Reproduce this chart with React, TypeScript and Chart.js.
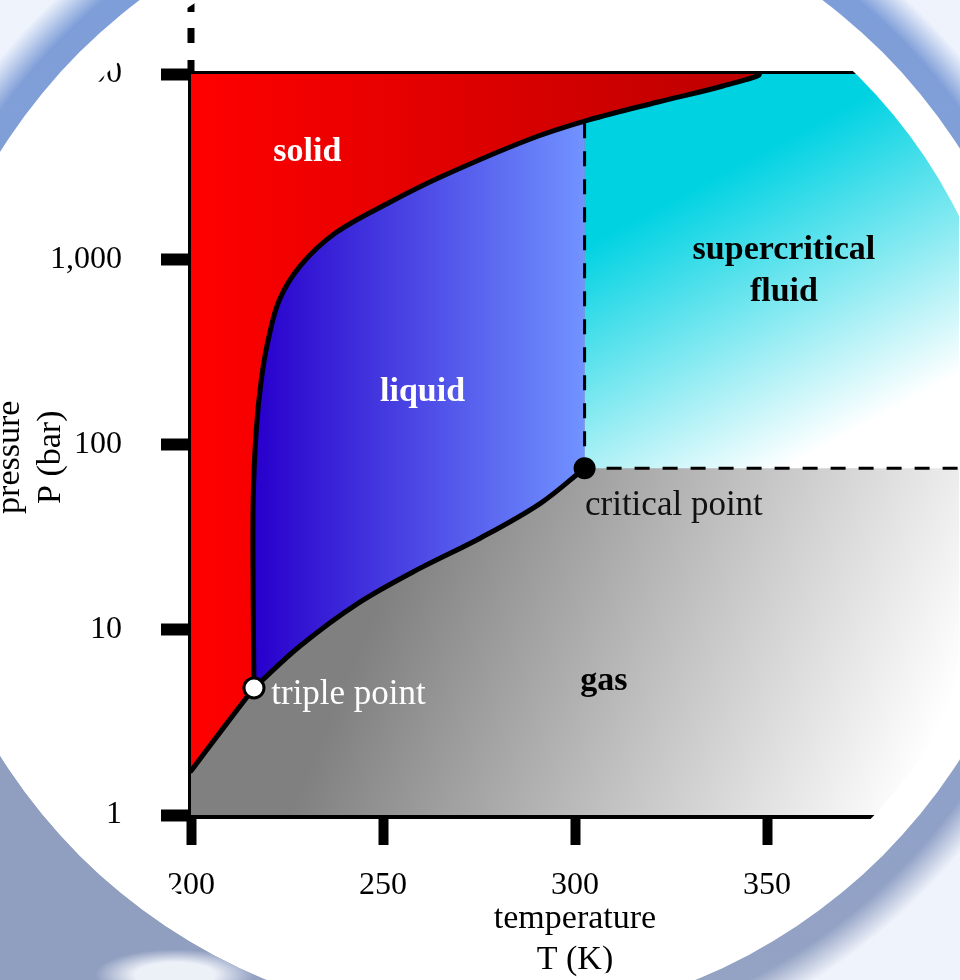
import React, { useEffect, useRef } from "react";
import { Chart, registerables } from "chart.js";

Chart.register(...registerables);

const SERIF = '"Liberation Serif", "Times New Roman", serif';

// ---------- data ----------
const T_RANGE = [200, 400];
const P_RANGE = [1, 10000];
const xTickValues = [200, 250, 300, 350];
const xTickLabels = ["200", "250", "300", "350"];
const yTickValues = [1, 10, 100, 1000, 10000];
const yTickLabels = ["1", "10", "100", "1,000", "10,000"];
const xTitle = ["temperature", "T (K)"];
const yTitle = ["pressure   ", "P (bar)   "];

const triplePoint = { T: 216.4, P: 4.85 };
const criticalPoint = { T: 302.5, P: 74.5 };

const sublimationT = [200, 208.1, 216.4];
const sublimationP = [1.73, 2.89, 4.85];

const meltingT = [216.4, 216.2, 216.2, 217.0, 218.3, 220.1, 223.0, 228.4, 237.6, 251.9, 265.0, 287.7, 303.6, 321.6, 338.5, 347.4];
const meltingP = [4.85, 14.5, 50.2, 119.8, 222.9, 366.6, 602.6, 919, 1386, 2037, 2780, 4404, 5650, 7063, 8614, 10000];

const vaporizationT = [216.4, 228.4, 243.3, 259.7, 275.4, 291.1, 302.5];
const vaporizationP = [4.85, 8.17, 13.8, 21.5, 31.3, 48.3, 74.5];

const criticalIsothermTopP = 5560;
const HIDDEN_T = 208; // helper corner lying inside the solid region

const regionLabels = ["solid", "liquid", "supercritical\nfluid", "gas"];
const regionLabelT = [230.3, 260.3, 354.4, 307.5];
const regionLabelP = [3793, 192, 864, 5.29];

const pointLabels = ["triple point", "critical point"];
const pointLabelT = [220.9, 302.6];
const pointLabelP = [4.44, 46.6];

// ---------- styles ----------
const REGION_LABEL_COLORS = ["#ffffff", "#ffffff", "#000000", "#000000"];
const POINT_LABEL_COLORS = ["#ffffff", "#111111"];
const FRAME = { cx: 481, cy: 454, rInner: 534, rOuter: 568 };
const TRANSPARENT = "rgba(0,0,0,0)";

const toPts = (Ts: number[], Ps: number[]) => Ts.map((t, i) => ({ x: t, y: Ps[i] }));
const sublimation = toPts(sublimationT, sublimationP);
const melting = toPts(meltingT, meltingP);
const vaporization = toPts(vaporizationT, vaporizationP);

// triple point appears twice so the corner stays sharp under spline tension
const solidShape = [...sublimation, ...melting, { x: T_RANGE[0], y: P_RANGE[1] }];
const liquidEdge = [...vaporization]
  .reverse()
  .concat([{ x: triplePoint.T, y: triplePoint.P }, { x: HIDDEN_T, y: triplePoint.P }]);
const liquidShape = [...liquidEdge, { x: HIDDEN_T, y: P_RANGE[1] }, { x: criticalPoint.T, y: P_RANGE[1] }];
const fluidShape = [
  { x: criticalPoint.T, y: criticalPoint.P },
  { x: T_RANGE[1], y: criticalPoint.P },
  { x: T_RANGE[1], y: P_RANGE[1] },
  { x: criticalPoint.T, y: P_RANGE[1] },
];
const gasShape = [
  { x: T_RANGE[0], y: P_RANGE[0] },
  { x: T_RANGE[1], y: P_RANGE[0] },
  { x: T_RANGE[1], y: P_RANGE[1] },
  { x: T_RANGE[0], y: P_RANGE[1] },
];

function linearFill(stops: [number, string][], from: number[], to: number[]) {
  return (context: any) => {
    const chart = context.chart;
    const { ctx, chartArea, scales } = chart;
    if (!chartArea || !scales.x || !scales.y) return stops[0][1];
    const x0 = scales.x.getPixelForValue(from[0]);
    const y0 = scales.y.getPixelForValue(from[1]);
    const x1 = scales.x.getPixelForValue(to[0]);
    const y1 = scales.y.getPixelForValue(to[1]);
    const g = ctx.createLinearGradient(x0, y0, x1, y1);
    stops.forEach(([o, c]) => g.addColorStop(o, c));
    return g;
  };
}

const shapeBase = {
  type: "line" as const,
  fill: "shape",
  borderColor: TRANSPARENT,
  borderWidth: 0,
  pointRadius: 0,
  xAxisID: "x",
  yAxisID: "y",
};

function drawFrame(ctx: CanvasRenderingContext2D, W: number, H: number) {
  const { cx, cy, rInner, rOuter } = FRAME;
  ctx.save();
  ctx.beginPath();
  ctx.rect(0, 0, W, H);
  ctx.arc(cx, cy, rInner, 0, Math.PI * 2, true);
  ctx.fillStyle = "#ffffff";
  ctx.fill("evenodd");

  ctx.beginPath();
  ctx.rect(0, 0, W, H);
  ctx.arc(cx, cy, rOuter, 0, Math.PI * 2, true);
  ctx.clip("evenodd");
  const base = ctx.createLinearGradient(0, 0, 0, H);
  base.addColorStop(0, "#7e9ed9");
  base.addColorStop(0.55, "#89a0d0");
  base.addColorStop(1, "#94a2c3");
  ctx.fillStyle = base;
  ctx.fillRect(0, 0, W, H);

  const wash = ctx.createRadialGradient(cx, cy, rOuter + 22, cx, cy, rOuter + 55);
  wash.addColorStop(0, "rgba(248,250,255,0)");
  wash.addColorStop(1, "rgba(246,249,255,0.93)");
  ctx.fillStyle = wash;
  ctx.fillRect(0, 0, W, H);

  const blue = ctx.createRadialGradient(-60, 1010, 150, -60, 1010, 330);
  blue.addColorStop(0, "rgba(144,158,192,1)");
  blue.addColorStop(0.8, "rgba(144,158,192,1)");
  blue.addColorStop(1, "rgba(144,158,192,0)");
  ctx.fillStyle = blue;
  ctx.fillRect(0, 0, W, H);

  ctx.save();
  ctx.translate(175, 975);
  ctx.scale(1, 0.32);
  const blob = ctx.createRadialGradient(0, 0, 40, 0, 0, 80);
  blob.addColorStop(0, "rgba(244,247,252,0.92)");
  blob.addColorStop(1, "rgba(244,247,252,0)");
  ctx.fillStyle = blob;
  ctx.beginPath();
  ctx.arc(0, 0, 80, 0, Math.PI * 2);
  ctx.fill();
  ctx.restore();

  ctx.restore();
}

const decorPlugin = {
  id: "phaseDecor",
  afterDatasetsDraw(chart: any) {
    const { ctx, scales } = chart;
    const x = scales.x;
    const y = scales.y;
    ctx.save();
    ctx.textBaseline = "middle";
    ctx.textAlign = "center";
    ctx.font = `bold 34px ${SERIF}`;
    regionLabels.forEach((txt, i) => {
      const px = x.getPixelForValue(regionLabelT[i]);
      const py = y.getPixelForValue(regionLabelP[i]);
      const lines = txt.split("\n");
      ctx.fillStyle = REGION_LABEL_COLORS[i];
      lines.forEach((ln, j) => {
        ctx.fillText(ln, px, py + (j - (lines.length - 1) / 2) * 42);
      });
    });
    ctx.textAlign = "left";
    ctx.font = `35px ${SERIF}`;
    pointLabels.forEach((txt, i) => {
      ctx.fillStyle = POINT_LABEL_COLORS[i];
      ctx.fillText(txt, x.getPixelForValue(pointLabelT[i]), y.getPixelForValue(pointLabelP[i]));
    });
    ctx.restore();
  },
  afterDraw(chart: any) {
    const { ctx, chartArea, scales, width, height } = chart;
    const ax = scales.x.getPixelForValue(T_RANGE[0]);
    ctx.save();
    ctx.strokeStyle = "#000";
    ctx.lineWidth = 7;
    ctx.beginPath();
    ctx.moveTo(ax, chartArea.top);
    ctx.lineTo(ax, chartArea.top - 14);
    ctx.stroke();
    ctx.setLineDash([15, 16]);
    ctx.beginPath();
    ctx.moveTo(ax, chartArea.top - 31);
    ctx.lineTo(ax, 0);
    ctx.stroke();
    ctx.restore();
    drawFrame(ctx, width, height);
  },
};

const curveLine = {
  type: "line" as const,
  fill: false,
  borderColor: "#000",
  borderWidth: 5,
  borderJoinStyle: "round",
  borderCapStyle: "round",
  pointRadius: 0,
  xAxisID: "x",
  yAxisID: "y",
};

export default function App() {
  const ref = useRef<HTMLCanvasElement>(null);
  useEffect(() => {
    document.body.style.margin = "0";
    const canvas = ref.current;
    if (!canvas) return;
    const chart = new Chart(canvas, {
      type: "line",
      data: {
        datasets: [
          {
            ...shapeBase,
            label: "gas",
            data: gasShape,
            tension: 0,
            order: 10,
            backgroundColor: linearFill([[0, "#808080"], [1, "#ffffff"]], [249.3, 14.5], [385, 0.94]),
          },
          {
            ...shapeBase,
            label: "supercritical fluid",
            data: fluidShape,
            tension: 0,
            order: 9,
            backgroundColor: linearFill(
              [[0, "#00d2e2"], [0.15, "#00d2e2"], [1, "#ffffff"]],
              [306.7, 2679],
              [348.4, 64.3]
            ),
          },
          {
            ...shapeBase,
            label: "liquid",
            data: liquidShape,
            tension: 0.35,
            order: 8,
            backgroundColor: linearFill([[0, "#2800cc"], [1, "#7193ff"]], [217, 1000], [302.5, 1000]),
          },
          {
            ...shapeBase,
            label: "solid",
            data: solidShape,
            tension: 0.35,
            order: 7,
            backgroundColor: linearFill([[0, "#ff0000"], [1, "#bb0000"]], [200, 1000], [348.4, 1000]),
          },
          {
            ...curveLine,
            label: "vaporization curve",
            data: liquidEdge,
            tension: 0.35,
            order: 6,
            segment: {
              borderColor: (c: any) => (c.p1DataIndex === liquidEdge.length - 1 ? TRANSPARENT : undefined),
            },
          },
          {
            ...curveLine,
            label: "sublimation / melting curve",
            data: solidShape,
            tension: 0.35,
            order: 5,
            segment: {
              borderColor: (c: any) => (c.p1DataIndex === solidShape.length - 1 ? TRANSPARENT : undefined),
            },
          },
          {
            type: "line",
            label: "critical isotherm",
            data: [
              { x: criticalPoint.T, y: criticalPoint.P },
              { x: criticalPoint.T, y: criticalIsothermTopP },
            ],
            tension: 0,
            fill: false,
            borderColor: "#000",
            borderWidth: 3,
            borderDash: [15, 13],
            borderDashOffset: 6,
            pointRadius: 0,
            order: 4,
            xAxisID: "x",
            yAxisID: "y",
          },
          {
            type: "line",
            label: "critical isobar",
            data: [
              { x: criticalPoint.T, y: criticalPoint.P },
              { x: T_RANGE[1], y: criticalPoint.P },
            ],
            tension: 0,
            fill: false,
            borderColor: "#000",
            borderWidth: 3,
            borderDash: [15, 13],
            borderDashOffset: 6,
            pointRadius: 0,
            order: 4,
            xAxisID: "x",
            yAxisID: "y",
          },
          {
            type: "line",
            label: "triple point",
            data: [{ x: triplePoint.T, y: triplePoint.P }],
            showLine: false,
            pointRadius: 10,
            pointBackgroundColor: "#ffffff",
            pointBorderColor: "#000000",
            pointBorderWidth: 3,
            order: 1,
            xAxisID: "x",
            yAxisID: "y",
          },
          {
            type: "line",
            label: "critical point",
            data: [{ x: criticalPoint.T, y: criticalPoint.P }],
            showLine: false,
            pointRadius: 11,
            pointBackgroundColor: "#000000",
            pointBorderColor: "#000000",
            pointBorderWidth: 0,
            order: 1,
            xAxisID: "x",
            yAxisID: "y",
          },
        ] as any,
      },
      options: {
        responsive: false,
        animation: false,
        events: [],
        layout: { autoPadding: false, padding: { left: 0, top: 74, right: 1, bottom: 0 } },
        plugins: { legend: { display: false }, tooltip: { enabled: false } },
        scales: {
          x: {
            type: "linear",
            position: "bottom",
            min: T_RANGE[0],
            max: T_RANGE[1],
            z: 1,
            afterBuildTicks: (s: any) => {
              s.ticks = xTickValues.map((v) => ({ value: v }));
            },
            afterFit: (s: any) => {
              s.height = 165;
              s.paddingLeft = 0;
              s.paddingRight = 0;
            },
            ticks: {
              callback: (_v: any, i: number) => xTickLabels[i],
              color: "#000",
              font: { family: SERIF, size: 32 },
              padding: 21,
              autoSkip: false,
              maxRotation: 0,
            },
            grid: {
              display: true,
              drawOnChartArea: false,
              drawTicks: true,
              tickLength: 30,
              tickWidth: 10,
              tickColor: "#000",
            },
            border: { display: true, width: 7, color: "#000" },
            title: {
              display: true,
              text: xTitle,
              color: "#000",
              font: { family: SERIF, size: 34, lineHeight: 1.2 },
              padding: { top: 0, bottom: 0 },
            },
          },
          y: {
            type: "logarithmic",
            position: "left",
            min: P_RANGE[0],
            max: P_RANGE[1],
            z: 1,
            afterBuildTicks: (s: any) => {
              s.ticks = yTickValues.map((v) => ({ value: v }));
            },
            afterFit: (s: any) => {
              s.width = 191;
              s.paddingTop = 0;
              s.paddingBottom = 0;
            },
            ticks: {
              callback: (_v: any, i: number) => yTickLabels[i],
              color: "#000",
              font: { family: SERIF, size: 32 },
              padding: 39,
              autoSkip: false,
            },
            grid: {
              display: true,
              drawOnChartArea: false,
              drawTicks: true,
              tickLength: 30,
              tickWidth: 12,
              tickColor: "#000",
            },
            border: { display: true, width: 7, color: "#000" },
            title: {
              display: true,
              text: yTitle,
              color: "#000",
              font: { family: SERIF, size: 34, lineHeight: 1.2 },
              padding: { top: -10, bottom: 0 },
            },
          },
          top: {
            type: "linear",
            position: "top",
            min: 0,
            max: 1,
            z: 1,
            grid: { display: false },
            ticks: { display: false },
            border: { display: true, width: 6, color: "#000" },
            afterFit: (s: any) => {
              s.height = 0;
            },
          },
        },
      } as any,
      plugins: [decorPlugin],
    });
    return () => chart.destroy();
  }, []);

  return (
    <div style={{ position: "fixed", left: 0, top: 0, width: 960, height: 980, background: "#ffffff" }}>
      <canvas ref={ref} width={960} height={980} style={{ display: "block", width: 960, height: 980 }} />
    </div>
  );
}
